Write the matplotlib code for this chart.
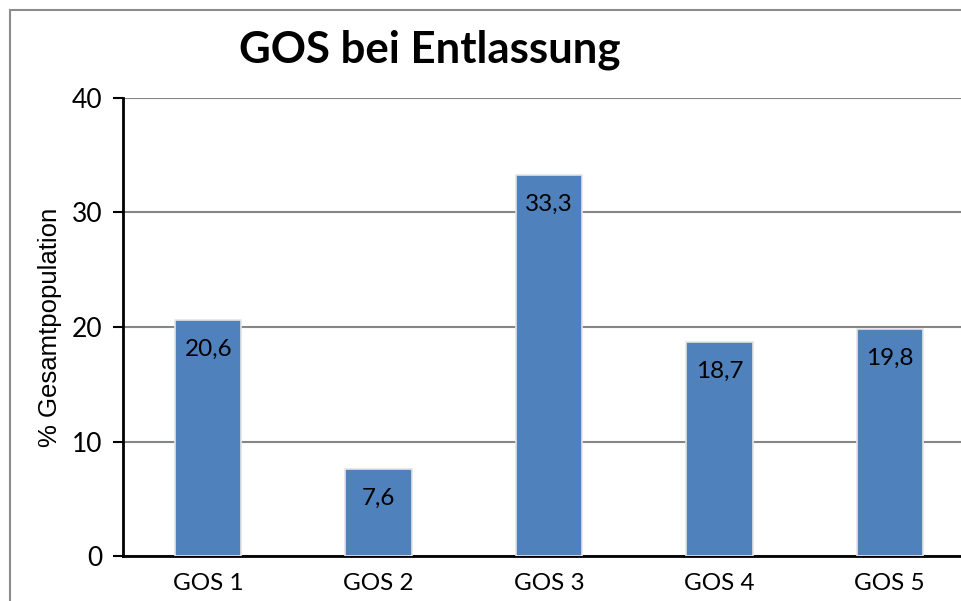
import matplotlib.pyplot as plt
from matplotlib.patches import Rectangle

# data
categories = ["GOS 1", "GOS 2", "GOS 3", "GOS 4", "GOS 5"]
values = [20.6, 7.6, 33.3, 18.7, 19.8]
labels = ["20,6", "7,6", "33,3", "18,7", "19,8"]
yticks = [0, 10, 20, 30, 40]

fig = plt.figure(figsize=(9.62, 6.01), dpi=100)

# gray outer frame (cut off on right / bottom like the screenshot)
fig.patches.append(Rectangle((10 / 962, -0.1), 1.2, 1 - 10 / 601 + 0.1,
                             transform=fig.transFigure, fill=False,
                             edgecolor="#8c8c8c", linewidth=1.5))

ax = fig.add_axes([123 / 962, 45 / 601, (975 - 123) / 962, (556 - 98) / 601])

x = range(len(categories))
ax.bar(x, values, width=0.39, color="#4F81BD", edgecolor="#e4e4e4",
       linewidth=1.2, zorder=3)

# data labels inside top of bars
for i, v in enumerate(values):
    ax.annotate(labels[i], (i, v), xytext=(0, -21), textcoords="offset points",
                ha="center", va="center", fontsize=17.5, family="Lato", zorder=4)

ax.set_xlim(-0.5, 4.5)
ax.set_ylim(0, 40)
ax.set_yticks(yticks)
ax.set_xticks(list(x))
ax.set_xticklabels(categories, family="Lato", fontsize=17.5)
for t in ax.get_yticklabels():
    t.set_family("Lato")
    t.set_fontsize(19)

ax.tick_params(axis="x", length=0, pad=12)
ax.tick_params(axis="y", direction="out", length=7, width=1.5, pad=8)

ax.grid(axis="y", color="#868686", linewidth=1.5, zorder=0)
ax.spines["top"].set_visible(False)
ax.spines["right"].set_visible(False)
ax.spines["left"].set_linewidth(2)
ax.spines["bottom"].set_linewidth(2)

ax.set_ylabel("% Gesamtpopulation", family="Liberation Sans", fontsize=18.5)
ax.yaxis.set_label_coords(-0.072, 0.5)

fig.text(430 / 962, 1 - 50 / 601, "GOS bei Entlassung", ha="center", va="center",
         family="Lato", fontweight="bold", fontsize=31.5)

fig.savefig("out.png", dpi=100)
